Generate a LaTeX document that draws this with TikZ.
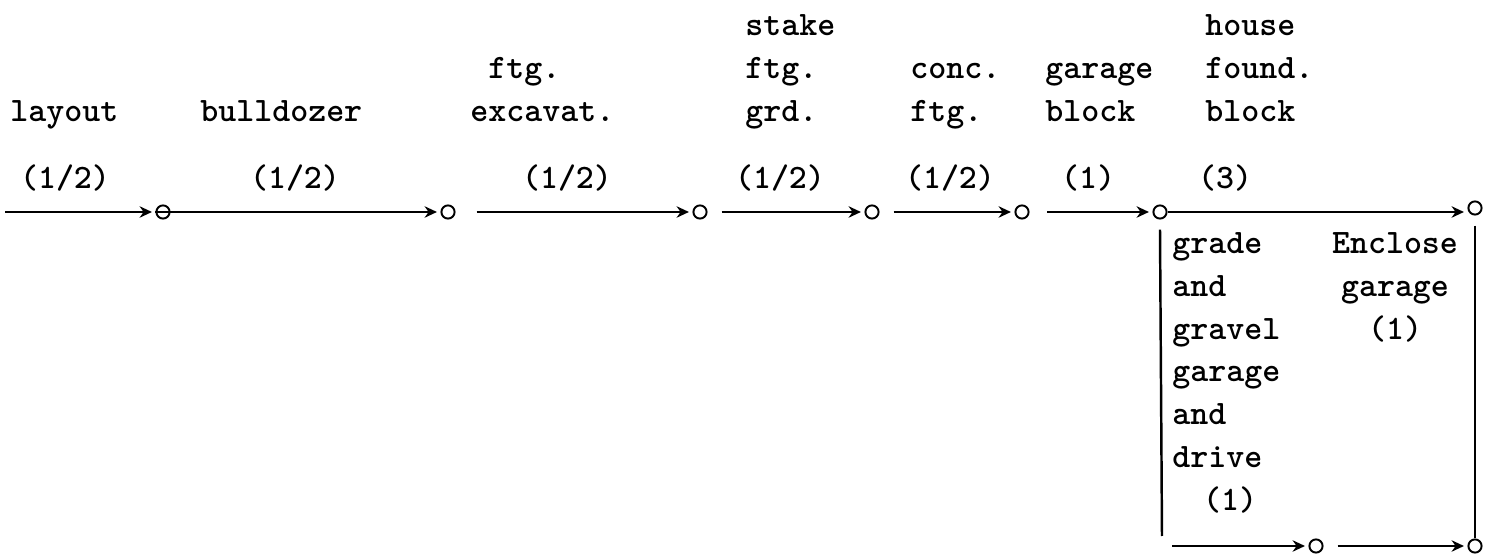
\documentclass[tikz,border=0pt]{standalone}
\usetikzlibrary{arrows.meta,backgrounds}

\begin{document}
\begin{tikzpicture}[%
        x=0.02cm, y=-0.02cm,%
        show background rectangle,%
        tight background,%
        background rectangle/.style={fill=white}%
    ]
%
% Styles
%
\tikzset{every node/.style={font=\ttfamily\bfseries\fontsize{19.5}{24.4}\selectfont, inner sep=0pt}};%
\tikzset{fleche/.style={line width=1.4pt, -{Stealth[length=7pt, width=6.5pt]}, shorten >=2pt}};%
\tikzset{trait/.style={line width=1.4pt}};%
\tikzset{evenement/.style={circle, draw, line width=1.1pt, minimum size=7.5pt}};%
\tikzset{tache/.style={anchor=south west, align=left, text depth=0pt}};%
\tikzset{duree/.style={anchor=center}};%

%
% Macros
%
\pgfmathsetmacro{\yfleche}{212};%
\pgfmathsetmacro{\ybas}{546};%
\pgfmathsetmacro{\yduree}{178};%
\pgfmathsetmacro{\ytache}{122};%
\pgfmathsetmacro{\ycolonne}{232};%

\useasboundingbox (0,0) rectangle (1489,560);%

%
% Events
%
\node[evenement] (e1) at (163,\yfleche) {};%
\node[evenement] (e2) at (448,\yfleche) {};%
\node[evenement] (e3) at (700,\yfleche) {};%
\node[evenement] (e4) at (872,\yfleche) {};%
\node[evenement] (e5) at (1022,\yfleche) {};%
\node[evenement] (e6) at (1160,\yfleche) {};%
\node[evenement] (e7) at (1475,\yfleche-4) {};%
\node[evenement] (b1) at (1316,\ybas) {};%
\node[evenement] (b2) at (1475,\ybas) {};%
\coordinate (debut) at (5,\yfleche);%
\coordinate (coin) at (1162,536);%

%
% Activities
%
\draw[fleche] (debut) -- (e1.west);%
\draw[fleche] (e1.west) -- (e2.west);%
\draw[fleche, shorten <=12pt] (e2) -- (e3.west);%
\draw[fleche, shorten <=8pt] (e3) -- (e4.west);%
\draw[fleche, shorten <=8pt] (e4) -- (e5.west);%
\draw[fleche, shorten <=10pt] (e5) -- (e6.west);%
\draw[fleche] (e6.east) -- (e7.west |- e6);%
\draw[trait] (e6.south) ++(0,10) -- (coin);%
\draw[fleche] (coin |- b1) ++(10,0) -- (b1.west);%
\draw[fleche, shorten <=8pt] (b1) -- (b2.west);%
\draw[trait] (e7.south) ++(0,10) -- (b2.north);%

% Names of the activities
\node[tache] (t1) at (10,\ytache) {layout};%
\node[tache] (t2) at (200,\ytache) {bulldozer};%
\node[tache] (t3) at (470,\ytache) {\ ftg.\\excavat.};%
\node[tache] (t4) at (745,\ytache) {stake\\ftg.\\grd.};%
\node[tache] (t5) at (910,\ytache) {conc.\\ftg.};%
\node[tache] (t6) at (1045,\ytache) {garage\\block};%
\node[tache] (t7) at (1205,\ytache) {house\\found.\\block};%
\node[anchor=north west, align=left] (t8) at (1172,\ycolonne) {grade\\and\\gravel\\garage\\and\\drive\\\hspace{0.9em}(1)};%
\node[anchor=north, align=center] (t9) at (1395,\ycolonne) {Enclose\\garage\\(1)};%

% Durations
\node[duree] (d1) at (65,\yduree) {(1/2)};%
\node[duree] (d2) at (295,\yduree) {(1/2)};%
\node[duree] (d3) at (567,\yduree) {(1/2)};%
\node[duree] (d4) at (780,\yduree) {(1/2)};%
\node[duree] (d5) at (950,\yduree) {(1/2)};%
\node[duree] (d6) at (1088,\yduree) {(1)};%
\node[duree] (d7) at (1225,\yduree) {(3)};%
\end{tikzpicture}
\end{document}
